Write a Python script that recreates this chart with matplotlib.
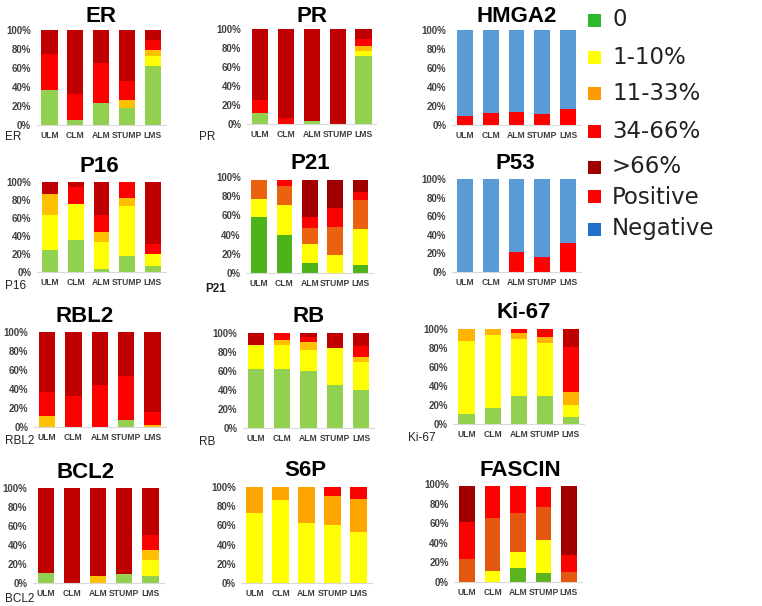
import matplotlib
matplotlib.use("Agg")
import matplotlib.pyplot as plt
from matplotlib.patches import Rectangle
import numpy as np

plt.rcParams['font.family'] = ['Liberation Sans', 'DejaVu Sans']

groups = ["ULM", "CLM", "ALM", "STUMP", "LMS"]
levels = ["0", "1-10%", "11-33%", "34-66%", ">66%"]
status = ["Positive", "Negative"]

# rows: 0, 1-10%, 11-33%, 34-66%, >66% ; columns: ULM, CLM, ALM, STUMP, LMS
ER = [[37, 5, 23, 18, 62],
      [0, 0, 0, 0, 11],
      [0, 0, 0, 8, 6],
      [38, 28, 42, 20, 10],
      [25, 67, 35, 54, 11]]
PR = [[12, 0, 3, 0, 72],
      [0, 0, 0, 0, 5],
      [0, 0, 0, 0, 5],
      [13, 6, 0, 0, 8],
      [75, 94, 97, 100, 10]]
P16 = [[25, 36, 3, 18, 7],
       [38, 40, 30, 55, 13],
       [24, 0, 11, 9, 0],
       [0, 18, 19, 18, 11],
       [13, 6, 37, 0, 69]]
P21 = [[58, 40, 10, 0, 8],
       [19, 31, 20, 19, 38],
       [20, 20, 17, 29, 30],
       [0, 6, 11, 20, 8],
       [0, 0, 39, 29, 13]]
RBL2 = [[0, 0, 0, 7, 0],
        [0, 0, 0, 0, 0],
        [12, 0, 0, 0, 2],
        [25, 33, 44, 47, 14],
        [63, 67, 56, 46, 84]]
RB = [[62, 62, 60, 45, 40],
      [25, 25, 22, 39, 30],
      [0, 6, 9, 0, 5],
      [0, 7, 5, 0, 11],
      [13, 0, 4, 16, 14]]
KI67 = [[11, 17, 30, 30, 7],
        [76, 77, 59, 55, 13],
        [13, 6, 7, 7, 14],
        [0, 0, 4, 8, 47],
        [0, 0, 0, 0, 19]]
BCL2 = [[11, 0, 0, 9, 7],
        [0, 0, 0, 0, 17],
        [0, 0, 7, 0, 11],
        [0, 0, 0, 0, 16],
        [89, 100, 93, 91, 49]]
S6P = [[0, 0, 0, 0, 0],
       [73, 86, 62, 60, 53],
       [27, 14, 38, 31, 35],
       [0, 0, 0, 9, 12],
       [0, 0, 0, 0, 0]]
FASCIN = [[0, 0, 14, 9, 0],
          [0, 11, 17, 34, 0],
          [23, 54, 39, 34, 10],
          [38, 33, 28, 20, 18],
          [37, 0, 0, 0, 70]]
# rows: Positive, Negative
HMGA2 = [[10, 13, 14, 12, 17],
         [90, 87, 86, 88, 83]]
P53 = [[0, 0, 21, 16, 31],
       [100, 100, 79, 84, 69]]

W, H = 762, 606
fig = plt.figure(figsize=(W / 100, H / 100), dpi=100)

std = ['#92D050', '#FFFF00', '#FFC000', '#FF0000', '#C00000']
p21c = ['#4DB31A', '#FFFF00', '#EA620F', '#FF0000', '#A00000']
fasc = ['#5BB31E', '#FFFF00', '#E5560F', '#FF0000', '#A00000']
s6pc = ['#92D050', '#FFFF00', '#FFA500', '#FF0000', '#C00000']
ki67c = ['#92D050', '#FFFF00', '#FFB400', '#FF0000', '#C00000']
pn = ['#FF0000', '#5B9BD5']

# (title, data, colors, y0px, y100px, ULM centre px, LMS centre px, title x, title y, row label, label x, label y, bold label)
panels = [
    ("ER", ER, std, 125, 30, 49.5, 153, 101, 16, "ER", 5, 137, False),
    ("PR", PR, std, 124, 29, 260, 363.5, 312, 16, "PR", 199, 137, False),
    ("HMGA2", HMGA2, pn, 125, 30, 465, 568, 517, 16, None, 0, 0, False),
    ("P16", P16, std, 272, 182, 50, 153, 99, 167, "P16", 5, 286, False),
    ("P21", P21, p21c, 273, 177, 259, 360.5, 310, 164, "P21", 205, 289, True),
    ("P53", P53, pn, 272, 179, 465, 568, 515, 164, None, 0, 0, False),
    ("RBL2", RBL2, std, 427, 332, 47, 152.5, 85, 317, "RBL2", 5, 441, False),
    ("RB", RB, std, 428, 333, 256, 361, 309, 317, "RB", 199, 442, False),
    ("Ki-67", KI67, ki67c, 424, 329, 466.5, 571, 524, 312, "Ki-67", 408, 438, False),
    ("BCL2", BCL2, std, 583, 488, 46, 150.5, 86, 472, "BCL2", 5, 599, False),
    ("S6P", S6P, s6pc, 583, 487, 254.5, 358.5, 305, 470, None, 0, 0, False),
    ("FASCIN", FASCIN, fasc, 582, 484, 467, 569, 520, 470, None, 0, 0, False),
]

for (title, data, cols, y0, y1, c0, c4, tx, ty, rl, rlx, rly, rlb) in panels:
    step = (c4 - c0) / 4.0
    left = c0 - step * 0.5
    right = c4 + step * 0.5
    ax = fig.add_axes([left / W, 1 - y0 / H, (right - left) / W, (y0 - y1) / H])
    x = np.arange(len(groups))
    bottom = np.zeros(len(groups))
    for vals, c in zip(data, cols):
        v = np.array(vals, dtype=float)
        ax.bar(x, v, bottom=bottom, width=0.62, color=c, linewidth=0)
        bottom += v
    ax.set_xlim(-0.5, 4.5)
    ax.set_ylim(0, 100)
    ax.set_yticks([0, 20, 40, 60, 80, 100])
    ax.set_yticklabels([f"{t}%" for t in range(0, 101, 20)], fontsize=7,
                       fontweight='bold', color='#404040')
    ax.set_xticks(x)
    ax.set_xticklabels(groups, fontsize=6.2, fontweight='bold', color='#404040')
    ax.tick_params(length=0, pad=4)
    for s in ['top', 'right', 'left']:
        ax.spines[s].set_visible(False)
    ax.spines['bottom'].set_color('#D9D9D9')
    ax.spines['bottom'].set_linewidth(0.8)
    ax.patch.set_alpha(0)
    fig.text(tx / W, 1 - ty / H, title, fontsize=16, fontweight='bold',
             ha='center', va='center', color='black')
    if rl:
        fig.text(rlx / W, 1 - rly / H, rl, fontsize=8.5,
                 fontweight='bold' if rlb else 'normal',
                 ha='left', va='center', color='#222222')

# legend
leg_colors = ['#2DB82D', '#FFFF00', '#FF9900', '#FF0000', '#A00000', '#FF0000', '#1F70C8']
leg_labels = levels + status
leg_y = [20, 57, 93, 131, 167, 197, 229]
for c, lab, yy in zip(leg_colors, leg_labels, leg_y):
    fig.add_artist(Rectangle(((588) / W, 1 - (yy + 6.5) / H), 13 / W, 13 / H,
                             transform=fig.transFigure, facecolor=c, edgecolor='none'))
    fig.text(612 / W, 1 - yy / H, lab, fontsize=16.5, ha='left', va='center',
             color='#222222', family=['DejaVu Sans'])

fig.savefig("out.png", dpi=100)
